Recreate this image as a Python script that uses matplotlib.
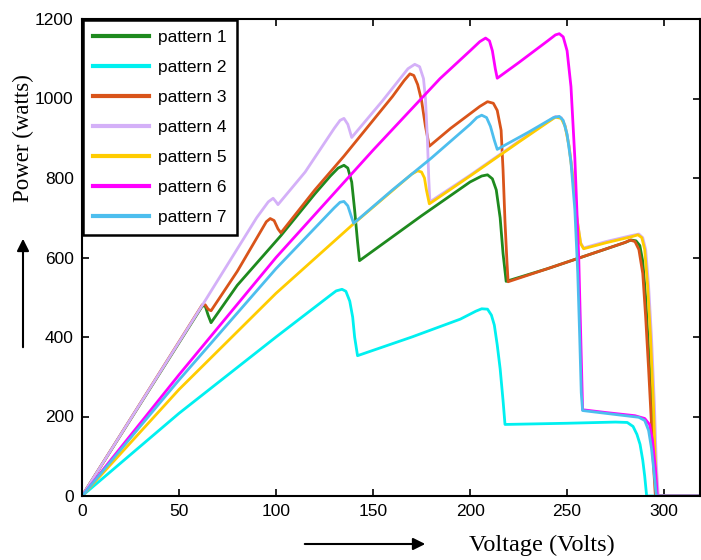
import matplotlib.pyplot as plt

plt.rcParams['font.family'] = ['Liberation Sans', 'DejaVu Sans']

labels = ['pattern 1', 'pattern 2', 'pattern 3', 'pattern 4', 'pattern 5', 'pattern 6', 'pattern 7']
colors = ['#1e8a1e', '#00f0f0', '#d9541a', '#d4b0f8', '#ffcc00', '#ff00ff', '#4dbeee']

# voltage / power points
v1 = [0, 62, 63.5, 65, 66.5, 80, 102.5, 120, 128, 132, 135, 137, 139, 140.5, 142, 143,
      175, 200, 206, 209, 211.5, 213.5, 215.5, 217, 218.6, 240, 260, 280, 283, 285.5, 287.5,
      289, 290.5, 292, 293.5, 295, 296, 320]
p1 = [0, 478, 478, 455, 436, 530, 655, 760, 805, 825, 832, 825, 790, 720, 640, 592,
      705, 790, 805, 808, 798, 770, 700, 610, 540, 572, 605, 638, 644, 642, 630,
      590, 500, 370, 230, 90, 0, 0]

v2 = [0, 50, 100, 128, 131, 134, 136, 138, 139.5, 140.5, 142, 170, 195, 203, 206, 209,
      211, 212.5, 214, 215.5, 217, 218, 250, 275, 281, 284, 286, 287.6, 289, 290, 291, 320]
p2 = [0, 208, 400, 505, 516, 520, 515, 490, 450, 400, 353, 400, 445, 465, 471, 470,
      455, 430, 380, 320, 240, 180, 183, 186, 185, 175, 155, 130, 90, 50, 0, 0]

v3 = [0, 62, 63.5, 65, 66.5, 80, 95, 97, 99, 101, 102.5, 120, 135, 150, 160, 166, 169,
      171, 173, 175, 177, 179, 190, 205, 209, 212, 214, 216, 217, 218, 219, 219.6,
      240, 260, 280, 282.5, 285, 287, 289, 290.5, 292, 293.5, 294.5, 295.5, 320]
p3 = [0, 481, 481, 470, 466, 565, 690, 698, 693, 672, 662, 770, 855, 945, 1005, 1045, 1062,
      1058, 1035, 995, 930, 880, 925, 980, 992, 988, 970, 920, 820, 690, 590, 539,
      572, 605, 638, 644, 640, 620, 560, 450, 320, 180, 80, 0, 0]

v4 = [0, 62, 90, 96, 98.5, 100, 101, 115, 130, 133, 135, 137, 139, 155, 168, 171.5,
      174, 176, 177, 178, 178.7, 179.3, 200, 225, 240, 244, 247, 249, 251, 253, 255, 257,
      258.5, 270, 283, 287, 289, 290.5, 292, 293.5, 295, 296, 297, 320]
p4 = [0, 480, 700, 740, 749, 740, 733, 815, 925, 945, 950, 935, 902, 995, 1075, 1086,
      1080, 1050, 1000, 900, 800, 740, 807, 892, 942, 955, 952, 932, 882, 802, 702, 637,
      624, 640, 655, 659, 650, 620, 530, 400, 230, 80, 0, 0]

v5 = [0, 50, 100, 140, 170, 173, 175, 176.5, 177.5, 179, 200, 225, 240, 244, 247, 249,
      251, 253, 255, 257, 258.5, 270, 283, 286.5, 288.5, 290, 291.5, 293, 294.5, 295.5,
      296.3, 320]
p5 = [0, 268, 510, 685, 810, 818, 815, 800, 770, 735, 805, 890, 940, 953, 950, 930,
      880, 800, 700, 635, 622, 637, 652, 657, 650, 620, 530, 400, 230, 80, 0, 0]

v6 = [0, 50, 100, 150, 184.5, 200, 205, 208, 210, 211.5, 213, 214, 225, 240, 244, 246,
      248, 250, 252, 254, 256, 257.3, 258, 270, 285, 290, 292.5, 294, 295.5, 296.5, 320]
p6 = [0, 305, 600, 870, 1050, 1120, 1143, 1152, 1145, 1120, 1075, 1051, 1090, 1145, 1160, 1163,
      1155, 1120, 1030, 850, 600, 350, 217, 210, 202, 195, 180, 140, 70, 0, 0]

v7 = [0, 50, 100, 130, 133, 135, 137, 139, 140, 160, 180, 200, 203.5, 206, 208.5, 210.5,
      212.5, 214, 230, 243, 246, 248, 250, 252, 254, 255.5, 256.5, 257.3, 258, 275, 287,
      290, 292, 293.5, 295, 296, 320]
p7 = [0, 292, 572, 725, 739, 741, 730, 700, 686, 770, 850, 935, 952, 958, 952, 930,
      895, 872, 915, 952, 955, 945, 910, 840, 720, 560, 400, 260, 215, 205, 198,
      190, 165, 120, 50, 0, 0]

volts = [v1, v2, v3, v4, v5, v6, v7]
power = [p1, p2, p3, p4, p5, p6, p7]

fig = plt.figure(figsize=(7.01, 5.60), dpi=100)
ax = fig.add_axes([82 / 701, 64 / 560, 618 / 701, 477 / 560])

for v, p, c, lab in zip(volts, power, colors, labels):
    ax.plot(v, p, color=c, lw=2.0, label=lab)

ax.set_xlim(0, 318.5)
ax.set_ylim(0, 1200)
ax.set_xticks([0, 50, 100, 150, 200, 250, 300])
ax.set_yticks([0, 200, 400, 600, 800, 1000, 1200])
ax.tick_params(direction='in', top=True, right=True, length=5, width=1.2,
               labelsize=12.5, pad=6)
for s in ax.spines.values():
    s.set_linewidth(1.5)

leg = ax.legend(loc='upper left', bbox_to_anchor=(0, 1), borderaxespad=0.05,
                fontsize=12.5, handlelength=3.2, handletextpad=0.5, labelspacing=0.85,
                borderpad=0.6, fancybox=False, edgecolor='black', framealpha=1)
leg.get_frame().set_linewidth(1.8)
for h in leg.get_lines():
    h.set_linewidth(3)

fig.text(23 / 701, 1 - 138 / 560, 'Power (watts)', rotation=90, ha='center', va='center',
         fontsize=16.5, family=['Liberation Serif', 'DejaVu Serif'])
fig.text(542 / 701, 1 - 545 / 560, 'Voltage (Volts)', ha='center', va='center',
         fontsize=17.5, family=['Liberation Serif', 'DejaVu Serif'])

fig.add_artist(plt.matplotlib.patches.FancyArrowPatch(
    (302 / 701, 1 - 544 / 560), (428 / 701, 1 - 544 / 560), transform=fig.transFigure,
    arrowstyle='-|>', mutation_scale=18, lw=1.5, color='black'))
fig.add_artist(plt.matplotlib.patches.FancyArrowPatch(
    (23 / 701, 1 - 350 / 560), (23 / 701, 1 - 236 / 560), transform=fig.transFigure,
    arrowstyle='-|>', mutation_scale=18, lw=1.5, color='black'))

fig.savefig('out.png', dpi=100)
